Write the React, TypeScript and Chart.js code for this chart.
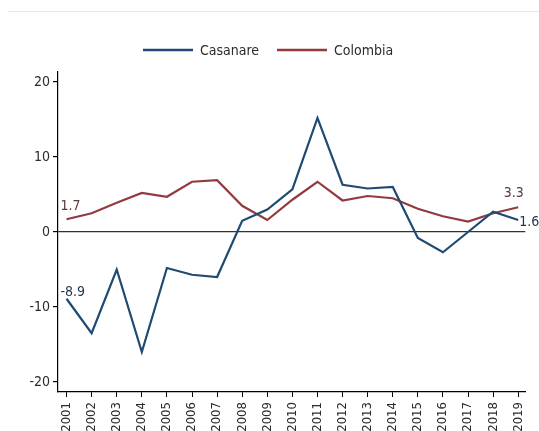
import React, { useEffect, useRef } from "react";
import { Chart, registerables } from "chart.js";

Chart.register(...registerables);

const years = [2001, 2002, 2003, 2004, 2005, 2006, 2007, 2008, 2009, 2010, 2011, 2012, 2013, 2014, 2015, 2016, 2017, 2018, 2019];
const casanare = [-8.9, -13.5, -5.0, -16.0, -4.8, -5.7, -6.0, 1.5, 3.0, 5.7, 15.2, 6.3, 5.8, 6.0, -0.8, -2.7, 0.0, 2.7, 1.6];
const colombia = [1.7, 2.5, 3.9, 5.2, 4.7, 6.7, 6.9, 3.5, 1.6, 4.3, 6.7, 4.2, 4.8, 4.5, 3.1, 2.1, 1.4, 2.5, 3.3];
const yTicks = [-20, -10, 0, 10, 20];
const seriesNames = ["Casanare", "Colombia"];

const FONT = '"Liberation Sans Narrow", "Arial Narrow", "DejaVu Sans Condensed", "Liberation Sans", sans-serif';
const NAVY = "#1f4a72";
const MAROON = "#933a40";
const TEXT = "#2b2b2b";

const legendPlugin = {
  id: "stataLegend",
  afterDraw(chart: any) {
    const ctx = chart.ctx;
    const starts = [143, 277];
    const y = 50;
    chart.data.datasets.forEach((ds: any, i: number) => {
      const x0 = starts[i];
      ctx.save();
      ctx.strokeStyle = ds.borderColor;
      ctx.lineWidth = 2.5;
      ctx.beginPath();
      ctx.moveTo(x0, y);
      ctx.lineTo(x0 + 50, y);
      ctx.stroke();
      ctx.fillStyle = TEXT;
      ctx.font = `14px ${FONT}`;
      ctx.textBaseline = "middle";
      ctx.textAlign = "left";
      ctx.fillText(ds.label, x0 + 57, y + 1);
      ctx.restore();
    });
  },
};

// label offsets relative to the point
const labelPlugin = {
  id: "endLabels",
  afterDatasetsDraw(chart: any) {
    const ctx = chart.ctx;
    const specs: any = {
      0: {
        first: { dx: -6, dy: -3, align: "left", base: "alphabetic", color: "#1f3550" },
        last: { dx: 1, dy: 2, align: "left", base: "middle", color: "#1f3550" },
      },
      1: {
        first: { dx: -6, dy: -9, align: "left", base: "alphabetic", color: "#5a3a3a" },
        last: { dx: -4.5, dy: -10, align: "center", base: "alphabetic", color: "#5a3a3a" },
      },
    };
    chart.data.datasets.forEach((ds: any, i: number) => {
      const meta = chart.getDatasetMeta(i);
      const n = ds.data.length;
      const pts = [
        { el: meta.data[0], v: ds.data[0].y, s: specs[i].first },
        { el: meta.data[n - 1], v: ds.data[n - 1].y, s: specs[i].last },
      ];
      pts.forEach((p) => {
        ctx.save();
        ctx.font = `14px ${FONT}`;
        ctx.fillStyle = p.s.color;
        ctx.textAlign = p.s.align;
        ctx.textBaseline = p.s.base;
        ctx.fillText(p.v.toFixed(1), p.el.x + p.s.dx, p.el.y + p.s.dy);
        ctx.restore();
      });
    });
  },
};

export default function App() {
  const ref = useRef<HTMLCanvasElement | null>(null);

  useEffect(() => {
    if (!ref.current) return;
    const chart = new Chart(ref.current, {
      type: "line",
      data: {
        datasets: [
          {
            label: seriesNames[0],
            data: years.map((y, i) => ({ x: y, y: casanare[i] })),
            borderColor: NAVY,
            backgroundColor: NAVY,
            borderWidth: 2.2,
            pointRadius: 0,
            tension: 0,
          },
          {
            label: seriesNames[1],
            data: years.map((y, i) => ({ x: y, y: colombia[i] })),
            borderColor: MAROON,
            backgroundColor: MAROON,
            borderWidth: 2.2,
            pointRadius: 0,
            tension: 0,
          },
        ],
      },
      options: {
        animation: false,
        responsive: false,
        devicePixelRatio: 1,
        layout: { padding: { left: 0, right: 11, top: 72, bottom: 0 } },
        plugins: {
          legend: { display: false },
          tooltip: { enabled: false },
        },
        scales: {
          x: {
            type: "linear",
            min: 2000.66,
            max: 2019.28,
            afterBuildTicks: (scale: any) => {
              scale.ticks = years.map((v) => ({ value: v }));
            },
            afterFit: (scale: any) => {
              scale.height = 39;
            },
            grid: {
              drawOnChartArea: false,
              drawTicks: true,
              tickLength: 5,
              tickColor: "#000",
              tickWidth: 1,
            },
            border: { display: true, color: "#000", width: 1.2 },
            ticks: {
              autoSkip: false,
              minRotation: 90,
              maxRotation: 90,
              padding: 5,
              color: TEXT,
              font: { family: FONT, size: 13 },
              callback: (v: any) => String(v),
            },
          },
          y: {
            type: "linear",
            min: -21.33,
            max: 21.33,
            afterBuildTicks: (scale: any) => {
              scale.ticks = yTicks.map((v) => ({ value: v }));
            },
            afterFit: (scale: any) => {
              scale.width = 58;
            },
            grid: {
              drawOnChartArea: true,
              drawTicks: true,
              tickLength: 5,
              tickColor: "#000",
              color: (c: any) => (c.tick && c.tick.value === 0 ? "#333" : "rgba(0,0,0,0)"),
              lineWidth: 1.2,
            },
            border: { display: true, color: "#000", width: 1.2 },
            ticks: {
              padding: 3,
              color: TEXT,
              font: { family: FONT, size: 14 },
              callback: (v: any) => String(v),
            },
          },
        },
      },
      plugins: [legendPlugin, labelPlugin],
    });
    return () => chart.destroy();
  }, []);

  return (
    <div style={{ position: "fixed", left: 0, top: 0, width: 539, height: 431, background: "#fff", overflow: "hidden" }}>
      <div style={{ position: "absolute", left: 8, right: 0, top: 11, height: 1, background: "#e6eaef" }} />
      <canvas ref={ref} width={539} height={431} style={{ position: "absolute", left: 0, top: 0, width: 539, height: 431 }} />
    </div>
  );
}
